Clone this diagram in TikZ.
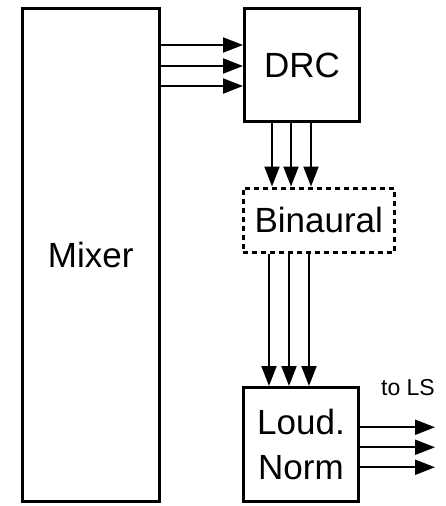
\documentclass[tikz,border=0pt]{standalone}
\usepackage{fontspec}
\setmainfont{Liberation Sans}
\usetikzlibrary{arrows.meta, positioning}

\begin{document}
\begin{tikzpicture}[
        x=1pt, y=-1pt,
        block/.style={rectangle, draw, line width=3pt, align=center, inner sep=0pt, font=\fontsize{35}{45}\selectfont},
        sig/.style={-{Triangle[length=20pt, width=15pt]}, line width=2pt}
    ]
        \useasboundingbox (0,0) rectangle (445,506);

        % Blocks
        \node[block, minimum width=136.5pt, minimum height=493pt] (mixer) at (90.75,254.5) {Mixer};
        \node[block, minimum width=115pt, minimum height=113pt] (drc) at (302,65) {DRC};
        \node[block, dash pattern=on 5pt off 4pt, minimum width=151.5pt, minimum height=64pt] (bin) at (318.75,220) {Binaural};
        \node[block, minimum width=115pt, minimum height=113.5pt] (loud) at (301,444.25) {Loud.\\Norm};

        % Output label
        \coordinate (ls) at (435,447);
        \node[font=\fontsize{23}{28}\selectfont, anchor=base] (tols) at (408,395) {to LS};

        % Signal paths
        \foreach \dy in {20,-1,-21}
            \draw[sig] ([yshift=\dy pt]drc.west -| mixer.east) -- ([yshift=\dy pt]drc.west);
        \foreach \dx in {-30,-11,9}
            \draw[sig] ([xshift=\dx pt]drc.south) -- ([xshift=\dx pt]drc.south |- bin.north);
        \foreach \dx in {-32,-12,8}
            \draw[sig] ([xshift=\dx pt]loud.north |- bin.south) -- ([xshift=\dx pt]loud.north);
        \foreach \dy in {17,-3,-23}
            \draw[sig] ([yshift=\dy pt]loud.east) -- ([yshift=\dy pt]loud.east -| ls);
    \end{tikzpicture}
\end{document}
